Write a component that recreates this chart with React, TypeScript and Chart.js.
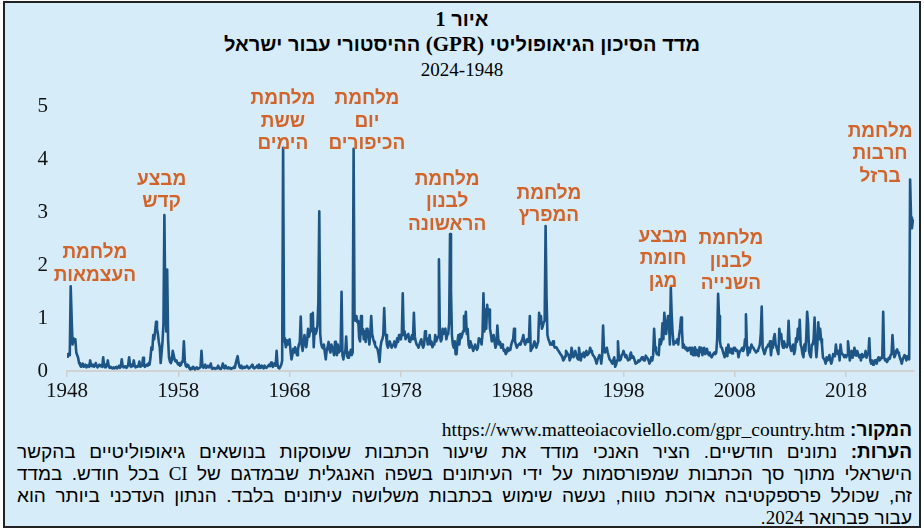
import React, { useEffect, useRef } from "react";
import { Chart, registerables } from "chart.js";

Chart.register(...registerables);

// ---------- DATA ----------
const startYear = 1948;

const gpr1948_1957 = [
  0.32, 0.27, 0.33, 0.3, 1.6, 1.0, 0.5, 0.62, 0.55, 0.6, 0.35, 0.3,
  0.25, 0.15, 0.12, 0.08, 0.1, 0.14, 0.08, 0.1, 0.12, 0.07, 0.09, 0.11,
  0.08, 0.2, 0.1, 0.09, 0.12, 0.08, 0.1, 0.15, 0.09, 0.07, 0.1, 0.12,
  0.09, 0.11, 0.08, 0.26, 0.1, 0.07, 0.12, 0.1, 0.2, 0.09, 0.06, 0.08,
  0.06, 0.05, 0.07, 0.05, 0.06, 0.08, 0.05, 0.07, 0.1, 0.06, 0.08, 0.22,
  0.1, 0.07, 0.08, 0.09, 0.06, 0.08, 0.12, 0.26, 0.1, 0.08, 0.12, 0.09,
  0.2, 0.1, 0.07, 0.09, 0.08, 0.1, 0.18, 0.08, 0.09, 0.1, 0.25, 0.1,
  0.08, 0.1, 0.12, 0.1, 0.15, 0.12, 0.25, 0.45, 0.4, 0.68, 0.6, 0.75,
  0.93, 0.8, 0.7, 0.55, 0.45, 0.15, 0.35, 0.56, 0.9, 2.95, 1.2, 0.75,
  1.92, 0.6, 0.25, 0.18, 0.15, 0.2, 0.38, 0.3, 0.22, 0.18, 0.2, 0.15,
];

const gpr1958_1967 = [
  0.12, 0.15, 0.1, 0.12, 0.18, 0.2, 0.56, 0.2, 0.1, 0.08, 0.12, 0.1,
  0.05, 0.03, 0.06, 0.04, 0.08, 0.05, 0.03, 0.06, 0.07, 0.04, 0.05, 0.06,
  0.08, 0.38, 0.1, 0.06, 0.09, 0.12, 0.06, 0.08, 0.1, 0.07, 0.09, 0.14,
  0.05, 0.04, 0.06, 0.05, 0.04, 0.06, 0.05, 0.1, 0.06, 0.04, 0.05, 0.07,
  0.14, 0.06, 0.05, 0.1, 0.06, 0.05, 0.07, 0.05, 0.06, 0.04, 0.05, 0.06,
  0.08, 0.06, 0.15, 0.22, 0.28, 0.15, 0.08, 0.06, 0.1, 0.05, 0.06, 0.08,
  0.06, 0.08, 0.1, 0.07, 0.05, 0.06, 0.08, 0.1, 0.12, 0.06, 0.05, 0.07,
  0.07, 0.1, 0.06, 0.12, 0.08, 0.06, 0.1, 0.08, 0.05, 0.1, 0.07, 0.06,
  0.08, 0.1, 0.12, 0.09, 0.16, 0.1, 0.08, 0.12, 0.15, 0.1, 0.38, 0.12,
  0.06, 0.05, 0.08, 0.12, 0.2, 4.22, 0.62, 0.55, 0.45, 0.58, 0.5, 0.55,
];

const gpr1968_1977 = [
  0.6, 0.38, 0.22, 0.3, 0.42, 0.35, 0.45, 0.38, 0.3, 0.4, 0.5, 0.55,
  1.03, 0.5, 0.38, 0.5, 0.68, 0.55, 0.45, 0.6, 0.8, 0.65, 0.75, 1.07,
  0.9, 1.1, 0.45, 0.8, 0.7, 0.75, 0.85, 1.3, 3.02, 0.7, 0.52, 0.45,
  0.43, 0.5, 0.35, 0.22, 0.4, 0.45, 0.55, 0.4, 0.35, 0.5, 0.45, 0.38,
  0.3, 0.55, 0.4, 0.3, 0.5, 0.35, 0.45, 0.38, 1.5, 0.3, 0.22, 0.35,
  0.35, 0.65, 0.28, 0.25, 0.35, 0.3, 0.4, 0.3, 0.35, 4.2, 1.0, 0.95,
  1.04, 0.92, 0.95, 0.62, 0.56, 1.04, 0.7, 0.8, 0.6, 0.75, 0.55, 0.8,
  0.8, 0.65, 0.5, 0.7, 1.04, 0.7, 0.62, 0.55, 0.5, 0.45, 0.44, 0.4,
  0.3, 0.17, 0.45, 0.56, 0.6, 0.68, 1.19, 0.7, 0.68, 0.5, 0.44, 0.5,
  0.56, 0.5, 0.44, 0.48, 0.5, 0.56, 0.45, 0.5, 0.62, 0.55, 0.68, 0.62,
];

const gpr1978_1987 = [
  0.6, 0.7, 1.47, 0.68, 0.75, 0.6, 0.65, 0.68, 0.7, 0.56, 0.55, 0.62,
  0.68, 0.6, 1.1, 0.65, 0.56, 0.5, 0.48, 0.44, 0.5, 0.56, 0.6, 0.5,
  0.44, 0.5, 0.75, 0.6, 0.62, 0.5, 0.55, 0.68, 0.5, 0.56, 0.45, 0.5,
  0.5, 0.68, 0.56, 0.6, 0.65, 2.11, 0.68, 0.56, 0.6, 0.8, 0.7, 0.75,
  0.8, 0.6, 0.68, 0.7, 0.9, 2.59, 1.52, 0.68, 0.5, 0.44, 0.56, 0.32,
  0.32, 0.56, 0.68, 0.5, 0.7, 0.62, 0.68, 0.75, 1.04, 0.8, 1.12, 0.7,
  0.8, 0.5, 0.44, 0.56, 0.5, 0.44, 0.38, 0.44, 0.5, 0.44, 0.4, 0.44,
  0.62, 0.56, 0.6, 0.5, 0.7, 1.47, 0.75, 1.16, 0.8, 1.25, 1.1, 1.16,
  0.8, 0.7, 0.56, 0.62, 0.68, 0.55, 0.44, 0.5, 0.86, 0.6, 0.5, 0.55,
  0.44, 0.5, 0.45, 0.38, 0.4, 0.32, 0.35, 0.44, 0.38, 0.42, 0.4, 0.5,
];

const gpr1988_1997 = [
  0.56, 0.6, 0.8, 0.56, 0.5, 0.44, 0.48, 0.5, 0.52, 0.5, 0.56, 0.6,
  0.68, 0.55, 0.5, 0.56, 0.6, 0.55, 0.56, 1.04, 0.38, 0.42, 0.44, 0.5,
  0.56, 0.5, 0.44, 0.5, 0.55, 1.1, 0.9, 1.04, 0.8, 0.85, 0.92, 0.95,
  2.74, 1.4, 0.68, 0.6, 0.56, 0.5, 0.52, 0.5, 0.56, 0.48, 0.44, 0.45,
  0.44, 0.4, 0.38, 0.35, 0.32, 0.3, 0.26, 0.2, 0.22, 0.28, 0.38, 0.35,
  0.32, 0.3, 0.2, 0.25, 0.44, 0.35, 0.26, 0.3, 0.38, 0.32, 0.25, 0.22,
  0.44, 0.3, 0.2, 0.32, 0.28, 0.35, 0.26, 0.32, 0.38, 0.3, 0.32, 0.35,
  0.44, 0.38, 0.35, 0.3, 0.28, 0.25, 0.2, 0.14, 0.22, 0.25, 0.3, 0.28,
  0.14, 0.3, 0.86, 0.4, 0.35, 0.38, 0.44, 0.35, 0.28, 0.22, 0.2, 0.17,
  0.14, 0.2, 0.26, 0.08, 0.12, 0.2, 0.56, 0.25, 0.2, 0.22, 0.3, 0.32,
];

const gpr1998_2007 = [
  0.38, 0.32, 0.26, 0.3, 0.24, 0.2, 0.22, 0.3, 0.35, 0.25, 0.28, 0.26,
  0.2, 0.14, 0.15, 0.16, 0.2, 0.18, 0.2, 0.24, 0.26, 0.22, 0.2, 0.2,
  0.29, 0.26, 0.24, 0.2, 0.14, 0.18, 0.26, 0.2, 0.3, 0.8, 0.45, 0.38,
  0.32, 0.34, 0.3, 0.6, 0.5, 0.56, 0.9, 0.6, 1.1, 0.86, 0.7, 0.9,
  1.04, 0.9, 0.5, 1.58, 1.04, 0.7, 0.5, 0.56, 0.53, 0.55, 0.6, 0.5,
  0.68, 0.8, 1.01, 0.8, 0.44, 0.5, 0.45, 0.41, 0.44, 0.38, 0.4, 0.44,
  0.44, 0.32, 0.44, 0.3, 0.35, 0.45, 0.3, 0.4, 0.32, 0.28, 0.45, 0.36,
  0.44, 0.3, 0.38, 0.44, 0.32, 0.35, 0.42, 0.33, 0.3, 0.35, 0.28, 0.26,
  0.29, 0.33, 0.35, 0.32, 0.35, 0.6, 1.46, 1.04, 0.56, 0.45, 0.44, 0.38,
  0.32, 0.26, 0.3, 0.44, 0.28, 0.5, 0.4, 0.35, 0.42, 0.33, 0.38, 0.44,
];

const gpr2008_2017 = [
  0.44, 0.38, 0.4, 0.38, 0.26, 0.35, 0.38, 0.4, 0.44, 0.38, 0.42, 0.6,
  1.07, 0.5, 0.3, 0.44, 0.35, 0.42, 0.5, 0.45, 0.44, 0.4, 0.38, 0.35,
  0.38, 0.4, 0.44, 0.5, 0.7, 1.22, 0.44, 0.38, 0.32, 0.38, 0.44, 0.45,
  0.5, 0.48, 0.56, 0.3, 0.45, 0.44, 0.62, 0.7, 0.5, 0.44, 0.38, 0.32,
  0.8, 0.62, 0.7, 0.5, 0.44, 0.56, 0.5, 0.5, 0.45, 0.5, 0.95, 0.55,
  0.44, 0.38, 0.45, 0.5, 0.32, 0.4, 0.62, 0.55, 0.8, 0.6, 0.97, 0.5,
  0.44, 0.32, 0.26, 0.5, 0.38, 0.62, 1.12, 0.9, 0.38, 0.3, 0.26, 0.5,
  0.5, 0.6, 1.01, 0.5, 0.26, 0.5, 0.92, 0.6, 0.8, 0.6, 0.5, 0.26,
  0.23, 0.2, 0.14, 0.26, 0.2, 0.23, 0.3, 0.2, 0.14, 0.2, 0.32, 0.28,
  0.3, 0.5, 0.35, 0.32, 0.38, 0.2, 0.5, 0.35, 0.32, 0.3, 0.26, 0.3,
];

const gpr2018_2024 = [
  0.26, 0.3, 0.56, 0.4, 0.2, 0.3, 0.38, 0.25, 0.32, 0.44, 0.3, 0.29,
  0.38, 0.32, 0.26, 0.3, 0.2, 0.32, 0.26, 0.3, 0.28, 0.38, 0.25, 0.32,
  0.32, 0.62, 0.2, 0.14, 0.2, 0.12, 0.14, 0.2, 0.2, 0.14, 0.22, 0.26,
  0.2, 0.22, 0.26, 0.25, 1.12, 0.26, 0.2, 0.22, 0.17, 0.2, 0.25, 0.23,
  0.3, 0.32, 0.68, 0.4, 0.26, 0.3, 0.38, 0.41, 0.35, 0.32, 0.25, 0.2,
  0.14, 0.22, 0.26, 0.3, 0.26, 0.2, 0.28, 0.26, 0.22, 3.62, 2.9, 2.7,
  2.85, 2.8,
];

const xTickYears = [1948, 1958, 1968, 1978, 1988, 1998, 2008, 2018];
const yTickValues = [0, 1, 2, 3, 4, 5];

const eventNames = [
  ["מלחמת", "העצמאות"],
  ["מבצע", "קדש"],
  ["מלחמת", "ששת", "הימים"],
  ["מלחמת", "יום", "הכיפורים"],
  ["מלחמת", "לבנון", "הראשונה"],
  ["מלחמת", "המפרץ"],
  ["מבצע", "חומת", "מגן"],
  ["מלחמת", "לבנון", "השנייה"],
  ["מלחמת", "חרבות", "ברזל"],
];
const eventYears = [1950.5, 1956.5, 1967.4, 1974.95, 1982.15, 1991.3, 2001.55, 2007.65, 2021.05];
const eventLevels = [2.23, 3.62, 5.14, 5.14, 3.62, 3.36, 2.54, 2.5, 4.53];

// ---------- STYLE ----------
const BG = "#d6ecf8";
const LINE = "#1d5587";
const ORANGE = "#d2642a";
const SERIF = "'Liberation Serif', 'DejaVu Serif', serif";
const SANS = "'Liberation Sans', 'DejaVu Sans', sans-serif";

const allValues = [
  ...gpr1948_1957,
  ...gpr1958_1967,
  ...gpr1968_1977,
  ...gpr1978_1987,
  ...gpr1988_1997,
  ...gpr1998_2007,
  ...gpr2008_2017,
  ...gpr2018_2024,
];

const eventLabelPlugin = {
  id: "eventLabels",
  afterDraw(chart: any) {
    const { ctx, scales } = chart;
    ctx.save();
    ctx.fillStyle = ORANGE;
    ctx.font = `bold 19px ${SANS}`;
    ctx.textAlign = "center";
    ctx.textBaseline = "middle";
    eventNames.forEach((lines, i) => {
      const px = scales.x.getPixelForValue(eventYears[i]);
      const py = scales.y.getPixelForValue(eventLevels[i]);
      lines.forEach((t, j) => {
        ctx.fillText(t, px, py + j * 22.5);
      });
    });
    ctx.restore();
  },
};

function GprChart() {
  const ref = useRef<HTMLCanvasElement | null>(null);
  useEffect(() => {
    if (!ref.current) return;
    const points = allValues.map((v, i) => ({ x: startYear + i / 12, y: v }));
    const chart = new Chart(ref.current, {
      type: "line",
      data: {
        datasets: [
          {
            data: points,
            borderColor: LINE,
            borderWidth: 2.6,
            pointRadius: 0,
            tension: 0,
            fill: false,
            borderJoinStyle: "round",
          } as any,
        ],
      },
      options: {
        animation: false,
        responsive: false,
        maintainAspectRatio: false,
        layout: { padding: { top: 18, right: 10, left: 0, bottom: 0 } },
        plugins: { legend: { display: false }, tooltip: { enabled: false }, title: { display: false } },
        scales: {
          x: {
            type: "linear",
            min: startYear,
            max: 2024.1,
            afterBuildTicks: (s: any) => {
              s.ticks = xTickYears.map((v) => ({ value: v }));
            },
            afterFit: (s: any) => {
              s.height = 34;
            },
            ticks: {
              callback: (v: any) => String(v),
              font: { family: SERIF, size: 21 },
              color: "#111",
              padding: 2,
              maxRotation: 0,
              autoSkip: false,
            },
            grid: {
              display: true,
              drawOnChartArea: false,
              drawTicks: true,
              tickLength: 6,
              color: "#cfcfcf",
              lineWidth: 1.5,
            },
            border: { display: true, color: "#d2d2d2", width: 2 },
          },
          y: {
            min: 0,
            max: 5,
            afterBuildTicks: (s: any) => {
              s.ticks = yTickValues.map((v) => ({ value: v }));
            },
            afterFit: (s: any) => {
              s.width = 67;
            },
            ticks: {
              font: { family: SERIF, size: 21 },
              color: "#111",
              padding: 19,
            },
            grid: { display: false, drawTicks: false },
            border: { display: false },
          },
        },
      } as any,
      plugins: [eventLabelPlugin],
    });
    return () => chart.destroy();
  }, []);
  return <canvas ref={ref} width={924} height={330} style={{ position: "absolute", left: 0, top: 75 }} />;
}

const latin: React.CSSProperties = { fontFamily: SERIF };

export default function App() {
  useEffect(() => {
    document.body.style.margin = "0";
  }, []);
  const noteLine: React.CSSProperties = {
    textAlign: "justify",
    textAlignLast: "justify",
    whiteSpace: "nowrap",
    height: 22,
  };
  return (
    <div style={{ position: "relative", width: 924, height: 529, background: "#fff", overflow: "hidden" }}>
      <div
        style={{
          position: "absolute",
          left: 3,
          top: 1,
          width: 918,
          height: 527,
          boxSizing: "border-box",
          border: "2px solid #222",
          background: BG,
        }}
      />
      <div
        style={{
          position: "absolute",
          left: 0,
          width: 924,
          top: 7,
          textAlign: "center",
          fontFamily: SANS,
          color: "#000",
          direction: "rtl",
        }}
      >
        <div style={{ fontSize: 20, fontWeight: "bold", lineHeight: "25px" }}>
          איור <span style={latin}>1</span>
        </div>
        <div style={{ fontSize: 20, fontWeight: "bold", lineHeight: "25px" }}>
          מדד הסיכון הגיאופוליטי <span style={{ ...latin, fontSize: 21 }}>(GPR)</span> ההיסטורי עבור ישראל
        </div>
        <div style={{ ...latin, fontSize: 19, lineHeight: "25px", direction: "ltr" }}>2024-1948</div>
      </div>
      <GprChart />
      <div
        style={{
          position: "absolute",
          left: 17,
          width: 895,
          top: 419,
          direction: "rtl",
          fontFamily: SANS,
          fontSize: 19,
          lineHeight: "22px",
          color: "#000",
        }}
      >
        <div style={{ textAlign: "right", height: 22 }}>
          <b>המקור: </b>
          <span dir="ltr" style={{ ...latin, fontSize: 19.5 }}>https://www.matteoiacoviello.com/gpr_country.htm</span>
        </div>
        <div style={noteLine}>
          <b>הערות:</b> נתונים חודשיים. הציר האנכי מודד את שיעור הכתבות שעוסקות בנושאים גיאופוליטיים בהקשר
        </div>
        <div style={noteLine}>
          הישראלי מתוך סך הכתבות שמפורסמות על ידי העיתונים בשפה האנגלית שבמדגם של <span style={latin}>CI</span> בכל חודש. במדד
        </div>
        <div style={noteLine}>
          זה, שכולל פרספקטיבה ארוכת טווח, נעשה שימוש בכתבות משלושה עיתונים בלבד. הנתון העדכני ביותר הוא
        </div>
        <div style={{ textAlign: "right", height: 22 }}>
          עבור פברואר <span style={latin}>2024</span>.
        </div>
      </div>
    </div>
  );
}
